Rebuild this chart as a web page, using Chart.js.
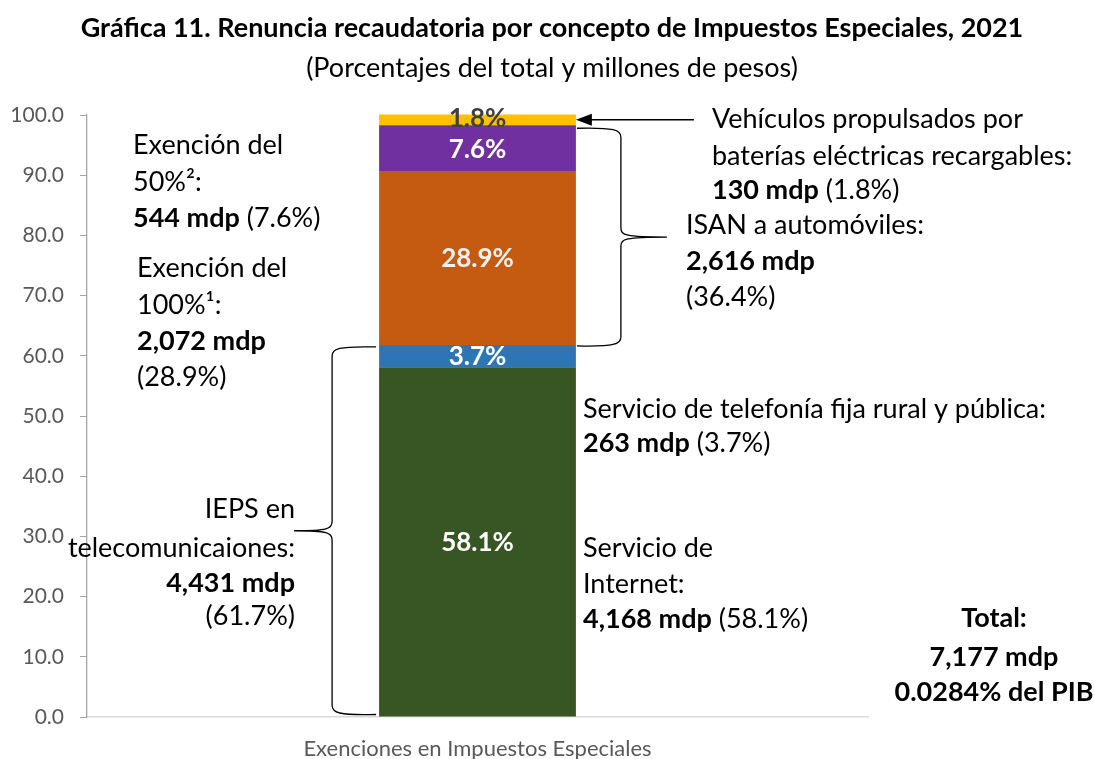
<!DOCTYPE html>
<html><head><meta charset="utf-8">
<script src="https://cdn.jsdelivr.net/npm/chart.js@4"></script>
<style>html,body{margin:0;padding:0;background:#fff;}#wrap{width:1094px;height:759px;position:relative;}</style>
</head><body><div id="wrap"><canvas id="c" width="1094" height="759"></canvas></div>
<script>
// ---- data ----
const categories = ['Exenciones en Impuestos Especiales'];
const segmentNames = ['Servicio de Internet', 'Servicio de telefonía fija rural y pública', 'ISAN Exención del 100%', 'ISAN Exención del 50%', 'Vehículos propulsados por baterías eléctricas recargables'];
const segmentShares = [58.1, 3.7, 28.9, 7.6, 1.8];
const segmentLabels = ['58.1%', '3.7%', '28.9%', '7.6%', '1.8%'];
const segmentColors = ['#375623', '#2e75b6', '#c55a11', '#7030a0', '#ffc000'];
const labelColors = ['#ffffff', '#ffffff', '#f2f2f2', '#ffffff', '#404040'];
const yMin = 0, yMax = 100, yStep = 10;

const titleText = 'Gráfica 11. Renuncia recaudatoria por concepto de Impuestos Especiales, 2021';
const subtitleText = '(Porcentajes del total y millones de pesos)';

// annotation texts: [text, bold]
const notes = [
  {x:133, y:145, a:'left', r:[['Exención del',0]]},
  {x:133, y:182, a:'left', r:[['50%²:',0]]},
  {x:133, y:218, a:'left', r:[['544 mdp',1],[' (7.6%)',0]]},
  {x:137, y:268, a:'left', r:[['Exención del',0]]},
  {x:137, y:305, a:'left', r:[['100%¹:',0]]},
  {x:137, y:341, a:'left', r:[['2,072 mdp',1]]},
  {x:137, y:377, a:'left', r:[['(28.9%)',0]]},
  {x:712, y:119, a:'left', r:[['Vehículos propulsados por',0]]},
  {x:712, y:156, a:'left', r:[['baterías eléctricas recargables:',0]]},
  {x:712, y:190, a:'left', r:[['130 mdp',1],[' (1.8%)',0]]},
  {x:686, y:225, a:'left', r:[['ISAN a automóviles:',0]]},
  {x:686, y:261, a:'left', r:[['2,616 mdp',1]]},
  {x:686, y:297, a:'left', r:[['(36.4%)',0]]},
  {x:583, y:409, a:'left', r:[['Servicio de telefonía fija rural y pública:',0]]},
  {x:583, y:443, a:'left', r:[['263 mdp',1],[' (3.7%)',0]]},
  {x:583, y:548, a:'left', r:[['Servicio de',0]]},
  {x:583, y:584, a:'left', r:[['Internet:',0]]},
  {x:583, y:619, a:'left', r:[['4,168 mdp',1],[' (58.1%)',0]]},
  {x:295, y:509, a:'right', r:[['IEPS en',0]]},
  {x:295, y:548, a:'right', r:[['telecomunicaiones:',0]]},
  {x:295, y:583, a:'right', r:[['4,431 mdp',1]]},
  {x:295, y:616, a:'right', r:[['(61.7%)',0]]},
  {x:994, y:618, a:'center', r:[['Total:',1]]},
  {x:994, y:657, a:'center', r:[['7,177 mdp',1]]},
  {x:994, y:692, a:'center', r:[['0.0284% del PIB',1]]}
];

const FONT = 'Lato';
const NOTE_SIZE = 27;

function drawRuns(ctx, n){
  const fonts = n.r.map(p => (p[1] ? 'bold ' : '') + NOTE_SIZE + 'px ' + FONT);
  let widths = n.r.map((p,i) => { ctx.font = fonts[i]; return ctx.measureText(p[0]).width; });
  const total = widths.reduce((s,w)=>s+w,0);
  let x = n.a === 'left' ? n.x : n.a === 'right' ? n.x - total : n.x - total/2;
  ctx.textAlign = 'left';
  ctx.textBaseline = 'middle';
  ctx.fillStyle = '#000';
  n.r.forEach((p,i) => { ctx.font = fonts[i]; ctx.fillText(p[0], x, n.y); x += widths[i]; });
}

function brace(ctx, xEnd, xLine, xTip, yTop, yBot){
  const d = xLine > xEnd ? 1 : -1;
  const r = 9;
  const yMid = (yTop + yBot) / 2;
  ctx.beginPath();
  ctx.moveTo(xEnd, yTop);
  ctx.bezierCurveTo(xLine - d*6, yTop - 1, xLine, yTop + 2, xLine, yTop + r);
  ctx.lineTo(xLine, yMid - r);
  ctx.bezierCurveTo(xLine, yMid - 2, xLine + d*4, yMid, xTip, yMid);
  ctx.moveTo(xTip, yMid);
  ctx.bezierCurveTo(xLine + d*4, yMid, xLine, yMid + 2, xLine, yMid + r);
  ctx.lineTo(xLine, yBot - r);
  ctx.bezierCurveTo(xLine, yBot - 2, xLine - d*6, yBot + 1, xEnd, yBot);
  ctx.stroke();
}

const decorPlugin = {
  id: 'decor',
  afterDatasetsDraw(chart){
    const ctx = chart.ctx;
    ctx.save();
    segmentLabels.forEach((lab, i) => {
      const el = chart.getDatasetMeta(i).data[0];
      const yc = (el.y + el.base) / 2;
      ctx.font = 'bold 26px ' + FONT;
      ctx.fillStyle = labelColors[i];
      ctx.textAlign = 'center';
      ctx.textBaseline = 'middle';
      ctx.fillText(lab, el.x, yc + (i === 4 ? -1 : 1));
    });
    ctx.restore();
  },
  afterDraw(chart){
    const ctx = chart.ctx;
    ctx.save();
    // titles
    ctx.fillStyle = '#000';
    ctx.textAlign = 'center';
    ctx.textBaseline = 'middle';
    ctx.font = 'bold 27px ' + FONT;
    ctx.fillText(titleText, 552, 28, 955);
    ctx.font = '27px ' + FONT;
    ctx.fillText(subtitleText, 552, 68, 510);
    // annotations
    notes.forEach(n => drawRuns(ctx, n));
    // braces
    const m0 = chart.getDatasetMeta(0).data[0];
    const m1 = chart.getDatasetMeta(1).data[0];
    const m2 = chart.getDatasetMeta(2).data[0];
    const m3 = chart.getDatasetMeta(3).data[0];
    const m4 = chart.getDatasetMeta(4).data[0];
    const left = m0.x - m0.width/2, right = m0.x + m0.width/2;
    ctx.strokeStyle = '#000';
    ctx.lineWidth = 1.3;
    brace(ctx, left - 3, left - 47, left - 85, m1.y + 2, m0.base - 2);
    brace(ctx, right + 1, right + 45, right + 91, m3.y + 3, m2.base + 1);
    // arrow to smallest segment
    const ya = (m4.y + m4.base) / 2;
    ctx.lineWidth = 1.6;
    ctx.beginPath();
    ctx.moveTo(right + 118, ya);
    ctx.lineTo(right + 14, ya);
    ctx.stroke();
    ctx.fillStyle = '#000';
    ctx.beginPath();
    ctx.moveTo(right, ya);
    ctx.lineTo(right + 16, ya - 6);
    ctx.lineTo(right + 16, ya + 6);
    ctx.closePath();
    ctx.fill();
    ctx.restore();
  }
};

const datasets = segmentNames.map((name, i) => ({
  label: name,
  data: [segmentShares[i]],
  backgroundColor: segmentColors[i],
  borderWidth: 0,
  barPercentage: 0.252,
  categoryPercentage: 1,
  clip: false
}));

new Chart(document.getElementById('c'), {
  type: 'bar',
  data: { labels: categories, datasets },
  options: {
    responsive: false,
    animation: false,
    devicePixelRatio: 1,
    layout: { padding: { left: 0, right: 226, top: 115, bottom: 0 } },
    plugins: { legend: { display: false }, tooltip: { enabled: false }, title: { display: false } },
    scales: {
      x: {
        stacked: true,
        grid: { display: false, drawTicks: false },
        border: { display: true, color: '#d9d9d9', width: 1.5 },
        ticks: { color: '#595959', font: { family: FONT, size: 22 }, padding: 19 },
        afterFit(s){ s.height = 42; }
      },
      y: {
        stacked: true,
        min: yMin, max: yMax,
        grid: { drawOnChartArea: false, drawTicks: true, tickLength: 7, color: '#a6a6a6' },
        border: { display: true, color: '#a6a6a6', width: 1.3 },
        ticks: { stepSize: yStep, color: '#595959', font: { family: FONT, size: 21 }, padding: 16,
                 callback: v => Number(v).toFixed(1) },
        afterFit(s){ s.width = 87; }
      }
    }
  },
  plugins: [decorPlugin]
});
</script></body></html>
